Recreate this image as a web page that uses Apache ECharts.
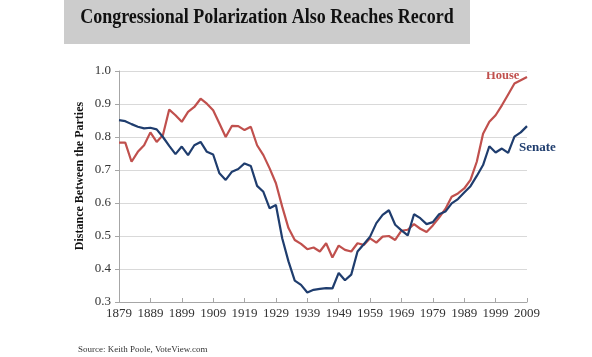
<!DOCTYPE html>
<html>
<head>
<meta charset="utf-8">
<script src="https://cdn.jsdelivr.net/npm/echarts@6/dist/echarts.min.js"></script>
<style>html,body{margin:0;padding:0;background:#fff;}#c{width:592px;height:357px;}</style>
</head>
<body>
<div id="c"></div>
<script>
var years = [];
for (var y = 1879; y <= 2009; y += 2) years.push(String(y));

var house = [0.783,0.783,0.725,0.755,0.775,0.814,0.785,0.806,0.883,0.866,0.846,0.876,0.891,0.916,0.901,0.881,0.841,0.800,0.834,0.833,0.821,0.831,0.775,0.745,0.705,0.660,0.589,0.524,0.488,0.476,0.460,0.465,0.453,0.478,0.435,0.471,0.458,0.453,0.478,0.473,0.493,0.480,0.498,0.500,0.488,0.516,0.519,0.536,0.522,0.512,0.532,0.556,0.582,0.619,0.629,0.644,0.670,0.725,0.810,0.846,0.866,0.896,0.929,0.962,0.972,0.982];

var senate = [0.851,0.848,0.839,0.831,0.826,0.828,0.823,0.800,0.773,0.748,0.771,0.745,0.775,0.785,0.755,0.747,0.690,0.670,0.695,0.703,0.720,0.712,0.652,0.634,0.584,0.594,0.493,0.423,0.365,0.352,0.329,0.337,0.340,0.342,0.341,0.388,0.366,0.383,0.453,0.475,0.498,0.539,0.564,0.578,0.534,0.517,0.502,0.566,0.554,0.536,0.542,0.566,0.574,0.599,0.612,0.632,0.651,0.682,0.715,0.772,0.753,0.765,0.752,0.801,0.814,0.833];

var chart = echarts.init(document.getElementById('c'));
var serif = '"Liberation Serif","DejaVu Serif",serif';
chart.setOption({
  animation: false,
  backgroundColor: '#ffffff',
  grid: {left: 119, right: 65, top: 71, bottom: 55},
  graphic: [
    {type: 'rect', left: 64, top: 0, shape: {width: 406, height: 44}, style: {fill: '#cccccc'}, z: -1},
    {type: 'text', x: 267, y: 18, scaleX: 0.9, style: {text: 'Congressional Polarization Also Reaches Record', font: 'bold 20px ' + serif, fill: '#111111', textAlign: 'center', textVerticalAlign: 'middle'}},
    {type: 'text', left: 486, top: 69, style: {text: 'House', font: 'bold 12.5px ' + serif, fill: '#c0504d'}},
    {type: 'text', left: 519, top: 141, style: {text: 'Senate', font: 'bold 13px ' + serif, fill: '#1f3d6e'}},
    {type: 'text', x: 80, y: 176, rotation: Math.PI / 2, style: {text: 'Distance Between the Parties', font: 'bold 12px ' + serif, fill: '#111111', textAlign: 'center', textVerticalAlign: 'middle'}},
    {type: 'text', left: 78, top: 345, style: {text: 'Source: Keith Poole, VoteView.com', font: '9px ' + serif, fill: '#333333'}}
  ],
  xAxis: {
    type: 'category',
    data: years,
    boundaryGap: false,
    axisLine: {lineStyle: {color: '#a6a6a6', width: 1}},
    axisTick: {inside: true, interval: 4, length: 4, lineStyle: {color: '#a6a6a6'}},
    axisLabel: {interval: 4, color: '#333333', fontFamily: serif, fontSize: 13, margin: 5}
  },
  yAxis: {
    type: 'value',
    min: 0.3, max: 1.0, interval: 0.1,
    axisLine: {show: true, lineStyle: {color: '#a6a6a6'}},
    axisTick: {show: true, length: 4, lineStyle: {color: '#a6a6a6'}},
    axisLabel: {color: '#333333', fontFamily: serif, fontSize: 13, margin: 8, formatter: function (v) { return v.toFixed(1); }},
    splitLine: {lineStyle: {color: '#d9d9d9'}}
  },
  series: [
    {name: 'House', type: 'line', data: house, symbol: 'none', lineStyle: {color: '#c0504d', width: 2.2}, itemStyle: {color: '#c0504d'}},
    {name: 'Senate', type: 'line', data: senate, symbol: 'none', lineStyle: {color: '#1f3d6e', width: 2.2}, itemStyle: {color: '#1f3d6e'}}
  ]
});
</script>
</body>
</html>
